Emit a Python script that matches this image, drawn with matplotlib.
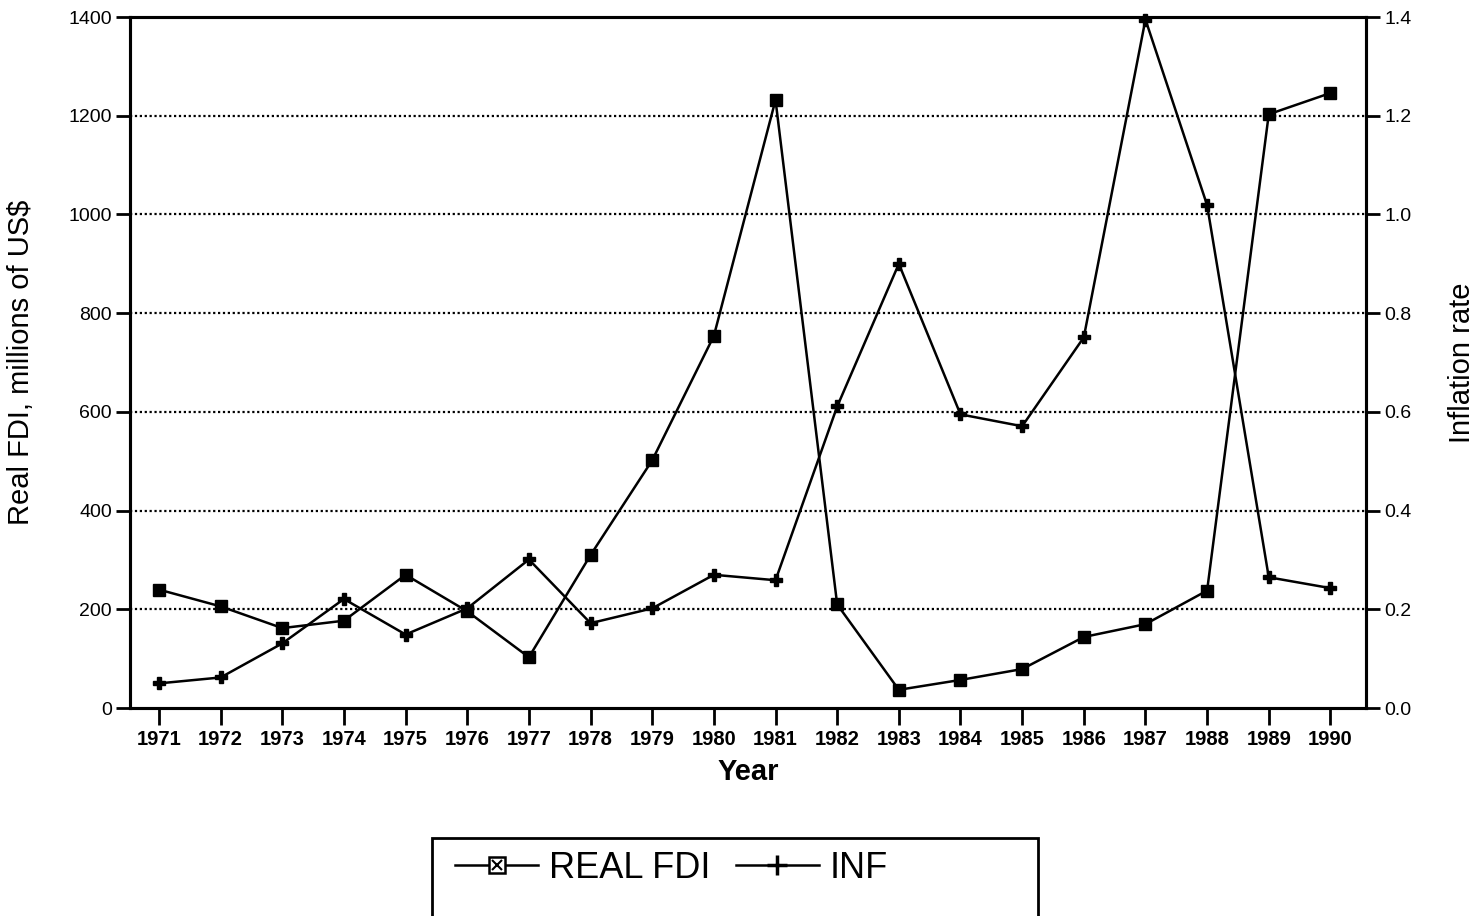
import numpy as np
import matplotlib
matplotlib.use('Agg')
import matplotlib.pyplot as plt
from matplotlib.lines import Line2D
from matplotlib.patches import Rectangle
from matplotlib.legend_handler import HandlerTuple

plt.rcParams['font.family'] = ['Liberation Sans', 'DejaVu Sans']

# ---- data ----
years = list(range(1971, 1991))
real_fdi = [240, 206, 162, 177, 270, 196, 103, 310, 502, 754,
            1232, 210, 37, 57, 79, 144, 170, 238, 1203, 1246]
inf_rate = [0.050, 0.062, 0.131, 0.221, 0.149, 0.202, 0.301, 0.172, 0.202, 0.270,
            0.259, 0.611, 0.900, 0.595, 0.571, 0.751, 1.395, 1.019, 0.265, 0.243]
left_ticks = [0, 200, 400, 600, 800, 1000, 1200, 1400]
right_ticks = [0.0, 0.2, 0.4, 0.6, 0.8, 1.0, 1.2, 1.4]

fig = plt.figure(figsize=(14.84, 9.16), dpi=100)
ax = fig.add_axes([0.0876, 0.227, 0.833, 0.7544])
ax2 = ax.twinx()

# dotted grid
for v in left_ticks[1:-1]:
    ax.axhline(v, color='black', linestyle=(0, (1, 1.2)), linewidth=1.6, zorder=1)

ax.plot(years, real_fdi, color='black', linewidth=1.8, marker='s', markersize=9,
        markerfacecolor='black', markeredgecolor='black', zorder=3, clip_on=False)
ax2.plot(years, inf_rate, color='black', linewidth=1.8, marker='P', markersize=9,
         markerfacecolor='black', markeredgecolor='black', zorder=3, clip_on=False)

ax.set_xlim(1970.53, 1990.58)
ax.set_ylim(0, 1400)
ax2.set_ylim(0, 1.4)
ax.set_xticks(years)
ax.set_xticklabels([str(y) for y in years], fontsize=14.5, fontweight='bold')
ax.set_yticks(left_ticks)
ax.set_yticklabels([str(v) for v in left_ticks], fontsize=14)
ax2.set_yticks(right_ticks)
ax2.set_yticklabels([f'{v:.1f}' for v in right_ticks], fontsize=14)

for a in (ax, ax2):
    for s in a.spines.values():
        s.set_linewidth(2.2)
ax.tick_params(axis='x', direction='out', length=12, width=2, pad=4)
ax.tick_params(axis='y', direction='out', length=10, width=2, pad=3)
ax2.tick_params(axis='y', direction='out', length=10, width=2, pad=3)

ax.set_xlabel('Year', fontsize=21, fontweight='bold', labelpad=6)
ax.set_ylabel('Real FDI, millions of US$', fontsize=21, labelpad=24)
ax2.set_ylabel('Inflation rate', fontsize=21, labelpad=26)

# legend box (runs off the bottom edge)
fig.patches.append(Rectangle((432 / 1484, -0.02), (1038 - 432) / 1484, 0.02 + (916 - 838) / 916,
                             transform=fig.transFigure, fill=False, edgecolor='black',
                             linewidth=2))
h_fdi = (Line2D([], [], color='black', linewidth=1.8, marker='s', markersize=11,
                markerfacecolor='white', markeredgecolor='black', markeredgewidth=1.8),
         Line2D([], [], linestyle='none', marker='x', markersize=7, color='black',
                markeredgewidth=1.5))
h_inf = Line2D([], [], color='black', linewidth=1.8, marker='+', markersize=14,
               markeredgewidth=2.5)
fig.legend([h_fdi, h_inf], ['REAL FDI', 'INF'], loc='center left',
           bbox_to_anchor=(437 / 1484, 1 - 868 / 916), frameon=False, fontsize=26,
           handler_map={tuple: HandlerTuple(ndivide=1)}, ncol=2,
           handlelength=2.3, handletextpad=0.3, columnspacing=0.7, borderpad=0)

fig.savefig('out.png', dpi=100)
